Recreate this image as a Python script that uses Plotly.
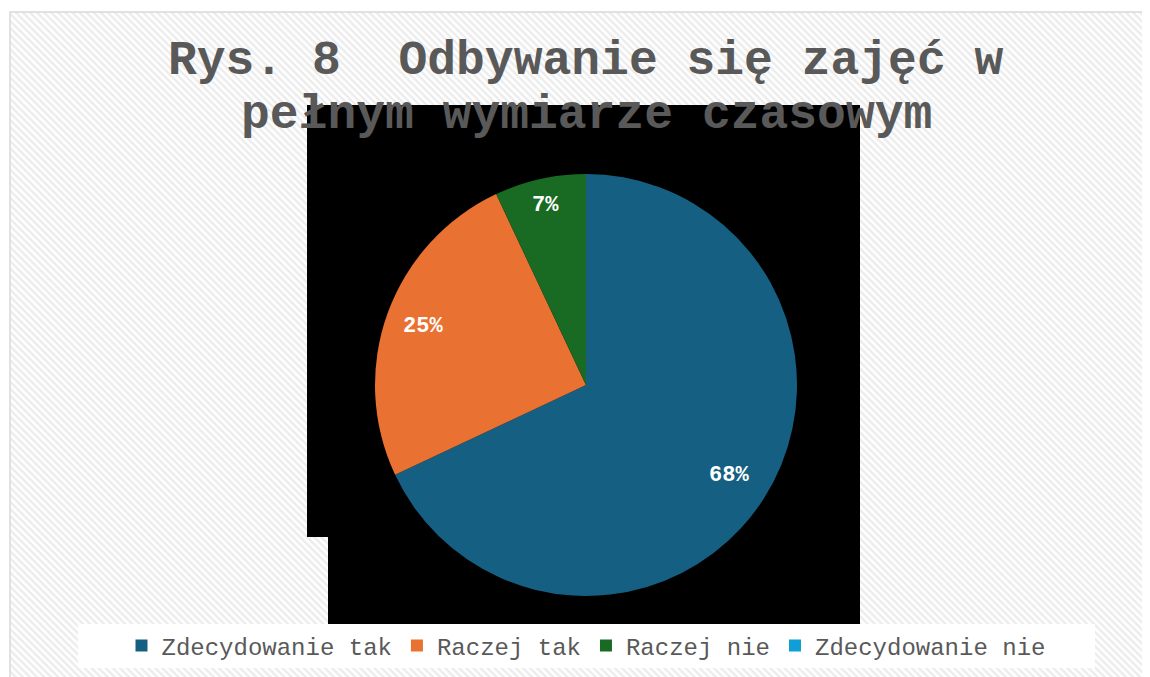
import base64
import math
import plotly.graph_objects as go

# ---- data ----
categories = ["Zdecydowanie tak", "Raczej tak", "Raczej nie", "Zdecydowanie nie"]
values = [68, 25, 7, 0]
colors = ["#156082", "#E97132", "#196B24", "#0F9ED5"]
title_line1 = "Rys. 8  Odbywanie się zajęć w"
title_line2 = "pełnym wymiarze czasowym"

# label radial placement (fraction of radius), style only
label_radius = [0.80, 0.82, 0.87, 0.8]

W, H = 1150, 677
OFF = 8  # page body margin


def px(x):
    return (x - OFF) / W


def py(y):
    return 1 - (y - OFF) / H


# hatched background as svg pattern
svg = f'''<svg xmlns="http://www.w3.org/2000/svg" width="{W}" height="{H}">
<defs><pattern id="p" width="5" height="5" patternUnits="userSpaceOnUse" patternTransform="rotate(45)">
<rect width="5" height="5" fill="#ffffff"/><rect width="5" height="2.4" fill="#ececec"/></pattern></defs>
<rect width="100%" height="100%" fill="url(#p)"/></svg>'''
bg_src = "data:image/svg+xml;base64," + base64.b64encode(svg.encode()).decode()

cx, cy, r = 586, 385, 211

fig = go.Figure()
fig.add_trace(go.Pie(
    labels=categories,
    values=values,
    marker=dict(colors=colors, line=dict(width=0)),
    sort=False,
    direction="clockwise",
    rotation=0,
    textinfo="none",
    domain=dict(x=[px(cx - r), px(cx + r)], y=[py(cy + r), py(cy - r)]),
    hoverinfo="label+percent",
))

# percentage labels placed along slice bisectors (computed from the values)
total = sum(values)
annotations = []
cum = 0
for v, rf in zip(values, label_radius):
    if v > 0:
        ang = (cum + v / 2) / total * 2 * math.pi
        lx = cx + rf * r * math.sin(ang)
        ly = cy - rf * r * math.cos(ang)
        annotations.append(dict(
            text=f"{round(v / total * 100)}%", xref="paper", yref="paper",
            x=px(lx), y=py(ly), xanchor="center", yanchor="middle", showarrow=False,
            font=dict(family="Liberation Mono", size=22, color="white", weight="bold")))
    cum += v

annotations += [
    dict(text=title_line1, xref="paper", yref="paper", x=px(586), y=py(61), xanchor="center",
         yanchor="middle", showarrow=False,
         font=dict(family="Liberation Mono", size=48, color="#595959", weight="bold")),
    dict(text=title_line2, xref="paper", yref="paper", x=px(586), y=py(115), xanchor="center",
         yanchor="middle", showarrow=False,
         font=dict(family="Liberation Mono", size=48, color="#595959", weight="bold")),
]

fig.update_layout(
    width=W, height=H,
    margin=dict(l=0, r=0, t=0, b=0),
    paper_bgcolor="white",
    showlegend=True,
    legend=dict(
        orientation="h", x=px(586), xanchor="center", y=py(646), yanchor="middle",
        bgcolor="rgba(0,0,0,0)", font=dict(family="Liberation Mono", size=24, color="#595959"),
        itemwidth=30,
    ),
    images=[dict(source=bg_src, xref="paper", yref="paper", x=px(10), y=py(12),
                 sizex=1, sizey=1, xanchor="left", yanchor="top",
                 sizing="stretch", layer="below")],
    shapes=[
        dict(type="rect", xref="paper", yref="paper", x0=px(10), x1=px(W + 20), y0=py(12), y1=py(H + 20),
             line=dict(color="#d9d9d9", width=1.5), fillcolor="rgba(0,0,0,0)", layer="below"),
        dict(type="rect", xref="paper", yref="paper", x0=px(307), x1=px(860), y0=py(105), y1=py(537),
             line=dict(width=0), fillcolor="black", layer="below"),
        dict(type="rect", xref="paper", yref="paper", x0=px(328), x1=px(860), y0=py(537), y1=py(625),
             line=dict(width=0), fillcolor="black", layer="below"),
        dict(type="rect", xref="paper", yref="paper", x0=px(78), x1=px(1095), y0=py(624), y1=py(668),
             line=dict(width=0), fillcolor="white", layer="below"),
    ],
    annotations=annotations,
)

fig.write_html("out.html")
